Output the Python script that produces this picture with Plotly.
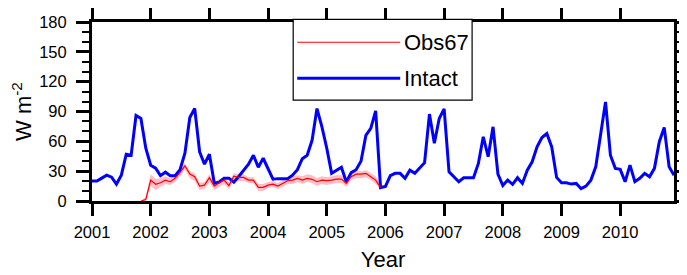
import plotly.graph_objects as go

start_year = 2001
years = list(range(2001, 2011))

intact = [20, 20, 23, 26, 24, 17, 26, 47, 46, 86, 83, 53,
          36, 33, 25.5, 29, 25.5, 25.5, 31.5, 48, 84, 93, 49.5, 37,
          47, 18, 19, 23, 23, 19, 24.7, 31, 37, 46, 34, 43,
          32, 22, 22.5, 22.5, 22.5, 26, 31.5, 42.5, 46, 61, 93, 74.7,
          53, 27.8, 30.5, 34, 19.2, 28.5, 31.4, 40, 66, 73, 90.6, 13.5,
          14.6, 25.5, 27.8, 27.8, 22.8, 31, 27.8, 32.8, 38.5, 87.4, 58, 83,
          92.7, 29.4, 24.4, 19.4, 23.4, 23.7, 23.4, 37.8, 64.6, 44.5, 74.6, 27,
          15.5, 21, 16.8, 23.4, 17.7, 31, 39.4, 54.4, 63.8, 67.8, 54.4, 23.7,
          18.4, 18.4, 17, 17.7, 12.4, 15, 21, 34.4, 67.8, 99.7, 46, 32.8,
          31.8, 19.4, 36.1, 19.4, 22.8, 27.8, 24.4, 32.8, 59.6, 74, 34.4, 26]

obs_start = 10  # month index of first Obs67 value
obs67 = [0, 1.5,
         21, 16.8, 18.4, 21, 19.4, 22.8, 28.5, 35.4, 27, 24.4, 15, 16,
         23.4, 15, 18.4, 21, 15.5, 25, 23.7, 23.7, 21, 21, 13.7, 13.7,
         16, 17, 15, 17.7, 20.4, 21, 22.8, 21, 22.8, 21.8, 19.4, 21,
         20.4, 21, 22, 22, 17.7, 24.4, 27, 27, 27.8, 24.4, 21, 13.5]
obs67_lo = [0, 0,
            15, 11, 14, 17, 16, 19, 25, 32, 23, 20, 11, 12,
            19, 11, 14, 17, 12, 21, 20, 20, 18, 18, 10, 10,
            13, 14, 12, 14, 17, 17, 19, 17, 19, 18, 15, 17,
            16, 17, 18, 18, 14, 21, 23, 23, 24, 21, 17, 11]
obs67_hi = [0, 4,
            27, 22, 23, 25, 23, 26, 32, 38, 30, 28, 18, 19,
            27, 18, 22, 24, 19, 28, 27, 27, 24, 24, 17, 17,
            19, 20, 18, 21, 24, 25, 26, 25, 27, 26, 23, 25,
            24, 25, 26, 26, 21, 28, 30, 30, 31, 28, 25, 16]

x_intact = [start_year + i / 12 for i in range(len(intact))]
x_obs = [start_year + (obs_start + i) / 12 for i in range(len(obs67))]

fig = go.Figure()
fig.add_trace(go.Scatter(x=x_obs, y=obs67_lo, mode="lines", line=dict(width=0, color="pink"),
                         showlegend=False, hoverinfo="skip"))
fig.add_trace(go.Scatter(x=x_obs, y=obs67_hi, mode="lines", line=dict(width=0, color="pink"),
                         fill="tonexty", fillcolor="rgba(255,182,193,0.9)", showlegend=False,
                         hoverinfo="skip"))
fig.add_trace(go.Scatter(x=x_intact, y=intact, mode="lines", name="Intact",
                         line=dict(color="#0000FF", width=3), showlegend=False))
fig.add_trace(go.Scatter(x=x_obs, y=obs67, mode="lines", name="Obs67",
                         line=dict(color="#FF0000", width=1.2), showlegend=False))

font_family = "Liberation Sans, Arial, Helvetica, sans-serif"

fig.update_xaxes(range=[start_year, start_year + (len(intact) - 1) / 12],
                 tickvals=years, ticktext=[str(y) for y in years],
                 ticks="outside", ticklen=12, tickwidth=2.5, tickcolor="black",
                 showline=True, linewidth=3, linecolor="black", mirror="allticks",
                 showgrid=False, zeroline=False, ticklabelstandoff=2,
                 tickfont=dict(size=16.5, color="black"),
                 title=dict(text="Year", font=dict(size=22, color="black"), standoff=12))
fig.update_yaxes(range=[0, 180], tick0=0, dtick=30,
                 ticks="outside", ticklen=13, tickwidth=2.5, tickcolor="black",
                 minor=dict(dtick=10, ticks="outside", ticklen=7, tickwidth=2, tickcolor="black"),
                 showline=True, linewidth=3, linecolor="black", mirror="allticks",
                 showgrid=False, zeroline=False, ticklabelstandoff=6, automargin=True,
                 tickfont=dict(size=16.5, color="black"),
                 title=dict(text="W m<sup>-2</sup>", font=dict(size=22, color="black"), standoff=19))

# legend box drawn in paper coordinates
lx0, lx1, ly0, ly1 = 0.3457, 0.6531, 0.5633, 1.0151
fig.add_shape(type="rect", xref="paper", yref="paper", x0=lx0, x1=lx1, y0=ly0, y1=ly1,
              line=dict(color="black", width=1.2), fillcolor="white", layer="above")
entries = [("Obs67", "#FF0000", 1.2, 0.8868), ("Intact", "#0000FF", 3, 0.686)]
for name, col, w, yy in entries:
    fig.add_shape(type="line", xref="paper", yref="paper", x0=0.3526, x1=0.5295, y0=yy, y1=yy,
                  line=dict(color=col, width=w), layer="above")
    fig.add_annotation(xref="paper", yref="paper", x=0.5329, y=yy, text=name, showarrow=False,
                       xanchor="left", yanchor="middle", font=dict(size=22, color="black"))

# the page adds an 8px body margin, so the figure is sized to fill the rest of the window
fig.update_layout(width=679, height=267, margin=dict(l=84, r=13, t=14, b=74, autoexpand=False),
                  paper_bgcolor="white", plot_bgcolor="white",
                  font=dict(family=font_family, color="black"), showlegend=False)

fig.write_html("out.html")
